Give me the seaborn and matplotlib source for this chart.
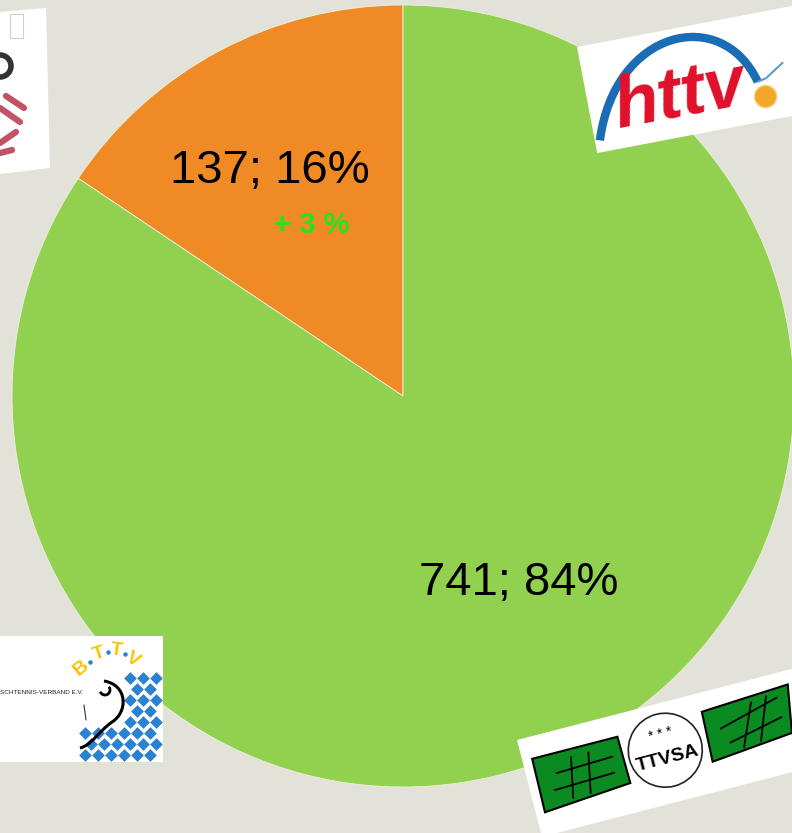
import numpy as np
import matplotlib.pyplot as plt
import matplotlib.patches as mpatches
from matplotlib.path import Path
from matplotlib import transforms
import seaborn as sns

# data
counts = [137, 741]
shares = ['16%', '84%']
change_note = '+ 3 %'
slice_colors = ['#f08a24', '#92d050']
labels = [f'{c}; {s}' for c, s in zip(counts, shares)]

bg = '#e3e2d9'
sns.set_theme(style='white', rc={'figure.facecolor': bg, 'axes.facecolor': bg})
plt.rcParams['font.family'] = ['Liberation Sans', 'DejaVu Sans']

W, H = 792, 833
fig = plt.figure(figsize=(W / 100, H / 100), dpi=100)
ax = fig.add_axes([0, 0, 1, 1])

cx, cy, r = 403, 396, 391
wedges, _ = ax.pie(counts, colors=slice_colors, startangle=-90, counterclock=False,
                   center=(cx, cy), radius=r,
                   wedgeprops=dict(edgecolor='#eef0e0', linewidth=0.6))
ax.set_xlim(0, W)
ax.set_ylim(H, 0)
ax.set_aspect('equal')
ax.axis('off')

# slice labels
label_frac = [0.68, 0.55]
nudge = [(-8, 22), (14, 9)]
pos = []
for w, text, f, (nx, ny) in zip(wedges, labels, label_frac, nudge):
    ang = np.deg2rad((w.theta1 + w.theta2) / 2)
    x = cx + r * f * np.cos(ang) + nx
    y = cy + r * f * np.sin(ang) + ny
    pos.append((x, y))
    ax.text(x, y, text, ha='center', va='baseline', fontsize=34, color='black', zorder=4)
ax.text(pos[0][0] + 42, pos[0][1] + 50, change_note, ha='center', va='baseline',
        fontsize=21, fontweight='bold', color='#20e620', zorder=4)


def frame(x0, y0, angle):
    return transforms.Affine2D().rotate_deg(angle).translate(x0, y0) + ax.transData


# --- logo top left (cut off) ---
ax.add_patch(mpatches.Polygon([(0, 12), (46, 8), (50, 168), (0, 174)], closed=True,
                              facecolor='white', edgecolor='none', zorder=5))
ax.add_patch(mpatches.Rectangle((10, 14), 13, 24, facecolor='none', edgecolor='#d0d0d0', lw=0.8, zorder=6))
ax.add_patch(mpatches.Circle((0, 66), 11, facecolor='none', edgecolor='#333333', lw=4, zorder=6))
for (x1, y1, x2, y2) in [(6, 96, 24, 108), (0, 108, 20, 122), (0, 143, 16, 132), (0, 153, 12, 150)]:
    ax.plot([x1, x2], [y1, y2], color='#b8354a', lw=4.5, alpha=0.85, solid_capstyle='round', zorder=6)

# --- httv logo ---
t1 = frame(577, 47, -10.8)
ax.add_patch(mpatches.Rectangle((0, 0), 230, 108, transform=t1, facecolor='white',
                                edgecolor='none', zorder=5))
arc = Path([(5, 96), (40, -10), (150, -15), (171, 68)],
           [Path.MOVETO, Path.CURVE4, Path.CURVE4, Path.CURVE4])
ax.add_patch(mpatches.PathPatch(arc, transform=t1, facecolor='none', edgecolor='#1a6db5',
                                lw=6, zorder=6))
ax.plot([171, 180, 199], [68, 66, 54], transform=t1, color='#5a9ad0', lw=1.5, zorder=6)
ax.add_patch(mpatches.Circle((176, 84), 11, transform=t1, facecolor='#f2a62a',
                             edgecolor='#f8d070', lw=1, zorder=7))
ax.text(92, 68, 'httv', transform=t1, rotation=10.8, rotation_mode='anchor', ha='center',
        va='center', fontsize=52, style='italic', fontweight='bold', color='#e0102a', zorder=7)

# --- BTTV logo ---
ax.add_patch(mpatches.Rectangle((0, 636), 163, 126, facecolor='white', edgecolor='none', zorder=5))
ax.text(0, 692, 'SCHTENNIS-VERBAND E.V.', ha='left', va='center', fontsize=4.6,
        color='#222222', zorder=6)
dx_list, dy_list = [], []
for k in range(8):
    yy = 678 + 11 * k
    for m in range(-4, 4):
        xx = 130 + 13 * m + (k % 2) * 6.5
        if 124 <= xx <= 158 or (yy >= 730 and 84 <= xx <= 158):
            dx_list.append(xx)
            dy_list.append(yy)
ax.scatter(dx_list, dy_list, marker='D', s=42, color='#2a82d4', linewidths=0, zorder=6)
paddle = Path([(104, 681), (128, 685), (128, 712), (112, 722), (98, 732), (92, 745), (80, 748)],
              [Path.MOVETO, Path.CURVE4, Path.CURVE4, Path.CURVE4, Path.CURVE4, Path.CURVE4, Path.CURVE4])
ax.add_patch(mpatches.PathPatch(paddle, facecolor='none', edgecolor='black', lw=2.2, zorder=7))
ax.add_patch(mpatches.Arc((105, 690), 10, 10, theta1=-40, theta2=160, color='black', lw=2, zorder=7))
ax.plot([84, 86], [705, 720], color='#333333', lw=0.8, zorder=7)
for ch, x, y, rot in [('B', 81, 668, 40), ('T', 99, 654, 18), ('T', 116, 650, -8), ('V', 133, 660, -32)]:
    ax.text(x, y, ch, ha='center', va='center', rotation=rot, fontsize=14, fontweight='bold',
            color='#f6c400', zorder=7)
ax.scatter([90, 108, 125], [662, 652, 654], s=5, color='#2a82d4', zorder=7)

# --- TTVSA logo ---
t2 = frame(517, 740, -14.5)
ax.add_patch(mpatches.Rectangle((0, 0), 300, 100, transform=t2, facecolor='white',
                                edgecolor='none', zorder=5))
for pts in [[(10, 22), (98, 22), (99, 70), (9, 77)], [(186, 19), (276, 14), (268, 62), (184, 70)]]:
    ax.add_patch(mpatches.Polygon(pts, closed=True, transform=t2, facecolor='#0c8a22',
                                  edgecolor='black', lw=1.5, zorder=6))
for (x1, y1, x2, y2) in [(30, 42, 88, 40), (24, 58, 86, 56), (48, 30, 40, 70), (66, 30, 58, 70),
                         (200, 40, 262, 24), (206, 56, 262, 44), (218, 64, 236, 22), (236, 62, 252, 20)]:
    ax.plot([x1, x2], [y1, y2], transform=t2, color='black', lw=1.3, zorder=7)
ax.add_patch(mpatches.Circle((141, 47), 37, transform=t2, facecolor='white', edgecolor='#222222',
                             lw=1.2, zorder=7))
ax.text(141, 56, 'TTVSA', transform=t2, rotation=14.5, rotation_mode='anchor', ha='center',
        va='center', fontsize=14, fontweight='bold', color='black', zorder=8)
ax.text(141, 30, '* * *', transform=t2, rotation=14.5, rotation_mode='anchor', ha='center',
        va='center', fontsize=10, color='black', zorder=8)

fig.savefig('out.png', dpi=100, facecolor=bg)
